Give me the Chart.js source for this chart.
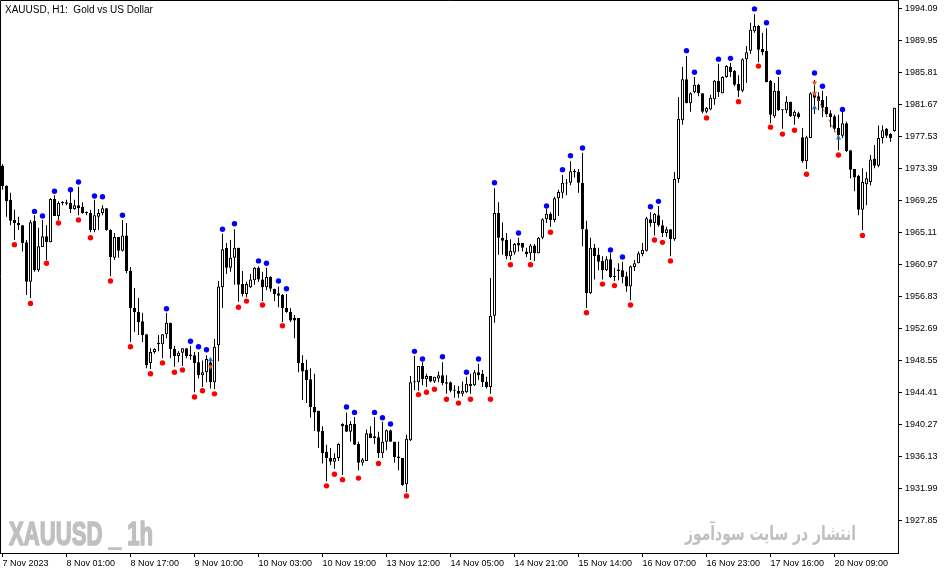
<!DOCTYPE html>
<html>
<head>
<meta charset="utf-8">
<script src="https://cdn.jsdelivr.net/npm/chart.js@4.4.1/dist/chart.umd.min.js"></script>
<style>
  html, body { margin: 0; padding: 0; background: #fff; }
  #chart { display: block; }
</style>
</head>
<body>
<canvas id="chart" width="951" height="574"></canvas>
<script>
// XAUUSD H1, one row = 16 bars (one date label)
const tickLabels = ['7 Nov 2023', '8 Nov 01:00', '8 Nov 17:00', '9 Nov 10:00', '10 Nov 03:00', '10 Nov 19:00',
  '13 Nov 12:00', '14 Nov 05:00', '14 Nov 21:00', '15 Nov 14:00', '16 Nov 07:00', '16 Nov 23:00',
  '17 Nov 16:00', '20 Nov 09:00'];

const priceTicks = [1927.85, 1931.99, 1936.13, 1940.27, 1944.41, 1948.55, 1952.69, 1956.83, 1960.97,
  1965.11, 1969.25, 1973.39, 1977.53, 1981.67, 1985.81, 1989.95, 1994.09];

const opens = [
  1973.8, 1971.2, 1969.4, 1966.8, 1966.4, 1966.1, 1963.9, 1958.8, 1966.7, 1960.3, 1963.3, 1964.7, 1963.9, 1969.5, 1967.3, 1969.0,
  1969.1, 1969.0, 1968.2, 1968.7, 1968.5, 1967.8, 1967.7, 1965.5, 1967.2, 1967.7, 1968.3, 1965.5, 1961.9, 1964.6, 1962.8, 1964.8,
  1960.2, 1955.4, 1954.9, 1953.7, 1952.0, 1948.3, 1949.7, 1950.9, 1950.7, 1952.0, 1953.5, 1950.1, 1949.2, 1949.6, 1950.2, 1949.4,
  1949.3, 1948.4, 1946.7, 1947.1, 1948.4, 1945.8, 1950.6, 1958.1, 1963.2, 1960.6, 1961.9, 1963.2, 1958.5, 1957.2, 1958.1, 1959.0,
  1960.6, 1959.1, 1958.1, 1959.4, 1957.9, 1957.3, 1957.1, 1955.4, 1954.9, 1954.1, 1954.1, 1948.3, 1947.4, 1946.2, 1942.6, 1942.1,
  1939.5, 1936.8, 1936.0, 1935.5, 1936.0, 1940.4, 1940.3, 1939.4, 1940.4, 1937.8, 1935.4, 1935.6, 1939.2, 1938.8, 1938.7, 1936.6,
  1938.1, 1939.6, 1938.1, 1936.2, 1936.0, 1932.6, 1938.3, 1945.8, 1945.8, 1947.9, 1946.2, 1946.6, 1945.9, 1946.3, 1946.7, 1945.8,
  1945.8, 1944.8, 1944.7, 1944.3, 1944.5, 1945.6, 1945.4, 1947.1, 1946.9, 1945.9, 1945.2, 1954.4, 1967.7, 1964.5, 1964.2, 1962.1,
  1962.6, 1963.8, 1963.8, 1962.7, 1962.5, 1963.5, 1962.5, 1964.5, 1966.9, 1967.6, 1966.8, 1969.6, 1970.3, 1971.6, 1971.6, 1973.0,
  1973.0, 1971.6, 1965.6, 1957.3, 1963.2, 1962.3, 1961.5, 1960.3, 1961.7, 1959.4, 1960.4, 1960.3, 1959.5, 1958.2, 1960.7, 1961.2,
  1962.4, 1962.8, 1966.9, 1966.4, 1967.4, 1966.1, 1965.1, 1965.6, 1964.3, 1972.1, 1979.7, 1985.0, 1981.9, 1983.3, 1984.3, 1983.2,
  1980.8, 1981.1, 1982.4, 1984.8, 1983.2, 1985.3, 1986.6, 1986.1, 1984.4, 1983.5, 1987.6, 1988.7, 1991.2, 1991.9, 1988.9, 1988.7,
  1984.8, 1980.2, 1983.5, 1981.1, 1981.0, 1982.1, 1980.2, 1980.6, 1977.5, 1974.4, 1977.4, 1983.2, 1982.8, 1982.3, 1981.4, 1980.6,
  1980.2, 1978.7, 1977.7, 1979.3, 1975.8, 1973.4, 1972.5, 1968.1, 1971.4, 1971.7, 1974.7, 1973.8, 1977.4, 1978.6, 1977.9, 1978.3
];
const highs = [
  1974.0, 1971.3, 1970.3, 1968.1, 1967.2, 1966.1, 1964.2, 1966.8, 1967.4, 1965.8, 1966.8, 1966.1, 1969.6, 1970.0, 1969.2, 1969.2,
  1969.4, 1970.4, 1969.4, 1971.1, 1969.1, 1967.9, 1968.1, 1969.4, 1968.2, 1968.7, 1968.3, 1965.6, 1965.1, 1964.6, 1966.8, 1966.4,
  1960.7, 1958.0, 1956.7, 1954.8, 1952.0, 1950.2, 1950.2, 1951.9, 1952.0, 1954.8, 1953.5, 1950.5, 1949.8, 1950.2, 1950.2, 1950.5,
  1949.7, 1949.7, 1948.6, 1949.3, 1948.9, 1951.4, 1958.9, 1965.0, 1963.8, 1964.2, 1965.6, 1963.2, 1960.2, 1958.8, 1959.8, 1960.7,
  1960.8, 1960.1, 1960.6, 1959.5, 1957.9, 1958.2, 1957.2, 1957.2, 1955.4, 1954.5, 1954.1, 1949.3, 1948.7, 1947.6, 1946.9, 1942.1,
  1940.1, 1937.7, 1937.3, 1936.6, 1937.9, 1940.5, 1941.9, 1940.8, 1941.3, 1938.1, 1936.0, 1939.7, 1940.1, 1941.3, 1939.4, 1940.7,
  1939.7, 1939.7, 1938.1, 1938.1, 1936.0, 1939.0, 1946.6, 1949.2, 1947.9, 1948.4, 1946.9, 1946.6, 1946.5, 1947.2, 1948.4, 1946.7,
  1945.9, 1945.4, 1945.3, 1945.9, 1946.5, 1946.9, 1947.4, 1948.2, 1947.4, 1946.5, 1959.3, 1970.9, 1969.1, 1966.5, 1965.1, 1964.3,
  1963.8, 1964.5, 1963.8, 1963.2, 1963.7, 1963.7, 1964.6, 1967.0, 1968.2, 1967.8, 1969.8, 1970.7, 1972.6, 1972.1, 1974.4, 1973.4,
  1973.4, 1975.5, 1966.7, 1964.5, 1963.7, 1963.2, 1962.1, 1962.1, 1962.5, 1960.6, 1961.2, 1961.4, 1960.1, 1960.9, 1961.6, 1962.7,
  1963.8, 1967.2, 1967.8, 1967.7, 1968.6, 1966.8, 1965.9, 1965.6, 1973.0, 1982.7, 1986.6, 1988.0, 1983.3, 1985.3, 1984.4, 1983.2,
  1981.4, 1983.0, 1984.9, 1987.0, 1985.4, 1986.8, 1987.1, 1986.2, 1985.5, 1987.7, 1989.3, 1992.3, 1993.4, 1992.0, 1991.0, 1991.6,
  1984.9, 1984.5, 1985.3, 1981.1, 1982.8, 1982.1, 1981.0, 1980.8, 1978.7, 1977.7, 1983.3, 1984.9, 1983.3, 1983.5, 1982.8, 1981.0,
  1980.4, 1980.4, 1980.8, 1979.5, 1975.8, 1973.4, 1972.6, 1973.5, 1973.0, 1975.2, 1976.5, 1979.0, 1979.0, 1978.7, 1978.0, 1981.3
];
const lows = [
  1970.7, 1967.2, 1966.1, 1964.2, 1965.5, 1962.7, 1957.1, 1956.7, 1960.1, 1960.1, 1963.3, 1961.6, 1963.9, 1967.3, 1966.8, 1968.7,
  1968.7, 1967.7, 1968.1, 1967.4, 1967.6, 1967.4, 1965.2, 1965.2, 1965.5, 1967.4, 1965.4, 1959.5, 1961.6, 1961.9, 1962.7, 1959.9,
  1951.0, 1952.3, 1951.9, 1951.0, 1947.6, 1947.5, 1949.5, 1949.8, 1948.9, 1951.5, 1948.9, 1947.8, 1948.4, 1947.9, 1948.9, 1948.7,
  1944.5, 1946.3, 1945.2, 1945.8, 1945.0, 1944.9, 1948.5, 1955.4, 1959.8, 1960.1, 1958.4, 1956.2, 1956.9, 1956.8, 1958.0, 1958.4,
  1958.8, 1956.3, 1957.7, 1957.5, 1956.3, 1955.5, 1953.6, 1954.8, 1953.6, 1951.5, 1947.1, 1943.5, 1943.1, 1941.2, 1939.5, 1937.3,
  1935.3, 1933.0, 1935.1, 1934.6, 1935.6, 1933.8, 1939.4, 1938.1, 1937.7, 1934.4, 1935.0, 1935.6, 1938.6, 1937.8, 1936.0, 1936.0,
  1937.0, 1938.1, 1935.4, 1934.4, 1932.4, 1931.6, 1938.2, 1944.8, 1944.7, 1945.4, 1945.2, 1945.8, 1945.7, 1945.8, 1945.4, 1944.3,
  1944.5, 1943.8, 1943.8, 1944.0, 1944.4, 1944.3, 1945.3, 1946.1, 1945.2, 1945.0, 1944.3, 1953.5, 1962.3, 1962.3, 1961.7, 1961.6,
  1962.3, 1962.7, 1962.7, 1962.0, 1961.6, 1961.5, 1962.5, 1964.3, 1966.4, 1965.9, 1966.5, 1967.3, 1969.6, 1970.0, 1971.3, 1972.3,
  1970.3, 1963.4, 1955.4, 1957.2, 1959.1, 1960.3, 1959.1, 1960.2, 1959.3, 1958.9, 1959.0, 1958.6, 1957.5, 1956.4, 1960.2, 1961.2,
  1962.1, 1962.7, 1965.9, 1964.8, 1965.9, 1964.6, 1964.6, 1962.1, 1964.1, 1971.6, 1979.1, 1981.9, 1980.8, 1983.2, 1982.8, 1980.6,
  1980.6, 1981.0, 1981.7, 1982.7, 1983.2, 1985.2, 1985.3, 1984.1, 1982.7, 1983.3, 1984.5, 1988.3, 1991.0, 1987.2, 1988.1, 1984.6,
  1979.3, 1980.0, 1980.9, 1978.6, 1980.6, 1980.1, 1979.1, 1979.9, 1974.2, 1973.4, 1977.4, 1980.5, 1981.0, 1980.1, 1980.1, 1978.8,
  1978.2, 1975.8, 1977.4, 1975.6, 1972.2, 1970.5, 1967.4, 1965.5, 1968.7, 1971.3, 1973.5, 1973.6, 1976.7, 1977.4, 1976.9, 1978.2
];
const closes = [
  1971.2, 1969.2, 1966.7, 1966.4, 1966.1, 1963.8, 1958.8, 1966.5, 1960.3, 1963.4, 1964.7, 1963.9, 1969.5, 1967.3, 1969.0, 1969.1,
  1968.9, 1968.2, 1968.7, 1968.3, 1967.7, 1967.7, 1965.5, 1967.4, 1967.7, 1968.3, 1965.5, 1962.0, 1964.6, 1962.8, 1964.8, 1960.2,
  1955.4, 1954.9, 1953.6, 1951.9, 1948.0, 1949.7, 1950.1, 1950.7, 1952.0, 1953.5, 1950.1, 1949.2, 1949.6, 1950.2, 1949.2, 1949.2,
  1948.3, 1946.7, 1947.1, 1948.8, 1945.8, 1950.4, 1958.2, 1963.0, 1960.6, 1961.9, 1963.2, 1958.4, 1957.2, 1958.5, 1959.1, 1960.6,
  1959.1, 1958.1, 1959.4, 1957.9, 1957.2, 1957.0, 1955.4, 1954.9, 1953.8, 1953.8, 1948.3, 1947.2, 1946.1, 1942.6, 1941.9, 1939.4,
  1936.6, 1936.0, 1935.5, 1936.0, 1937.8, 1940.1, 1939.4, 1940.4, 1937.7, 1935.4, 1935.8, 1939.2, 1938.6, 1938.6, 1936.6, 1938.1,
  1939.6, 1938.1, 1936.1, 1936.0, 1932.5, 1938.5, 1945.8, 1945.9, 1947.9, 1946.2, 1946.6, 1945.9, 1946.5, 1946.7, 1945.7, 1945.6,
  1944.7, 1944.7, 1944.3, 1944.7, 1945.6, 1945.3, 1947.1, 1946.7, 1945.8, 1945.2, 1954.4, 1967.7, 1964.5, 1964.1, 1962.1, 1962.8,
  1963.7, 1963.5, 1963.2, 1962.4, 1963.5, 1962.5, 1964.5, 1966.9, 1967.6, 1966.8, 1969.6, 1970.4, 1971.6, 1971.5, 1973.1, 1973.1,
  1971.6, 1965.6, 1957.3, 1963.2, 1962.1, 1961.4, 1960.3, 1961.7, 1959.4, 1959.5, 1960.2, 1959.4, 1958.2, 1960.8, 1961.2, 1962.5,
  1962.9, 1967.0, 1966.4, 1967.6, 1966.1, 1965.1, 1965.6, 1964.3, 1972.1, 1979.9, 1985.0, 1981.9, 1983.2, 1984.3, 1983.2, 1980.8,
  1981.3, 1982.6, 1984.8, 1983.3, 1985.3, 1986.7, 1985.9, 1984.3, 1983.5, 1987.6, 1988.5, 1991.4, 1991.9, 1988.8, 1988.5, 1984.6,
  1980.4, 1983.5, 1981.0, 1981.0, 1982.1, 1980.2, 1980.8, 1980.1, 1974.4, 1977.5, 1983.2, 1982.6, 1982.2, 1981.3, 1980.5, 1980.1,
  1978.6, 1977.8, 1979.3, 1975.7, 1973.3, 1972.3, 1968.1, 1971.7, 1972.2, 1974.6, 1973.8, 1977.4, 1978.4, 1977.7, 1977.4, 1981.3
];

// fractal marks: bar index and price of the dot
const upBars = [8, 10, 13, 17, 19, 23, 25, 30, 41, 47, 49, 51, 55, 58, 64, 66, 69, 71, 86, 88, 93, 95, 97,
  103, 105, 110, 116, 119, 123, 129, 136, 140, 142, 145, 152, 155, 162, 164, 171, 173, 179, 182, 188, 191,
  194, 203, 205, 210];
const upDots = [1967.9, 1967.3, 1970.5, 1970.7, 1971.7, 1969.9, 1969.8, 1967.4, 1955.3, 1951.1, 1950.4, 1950.0,
  1965.6, 1966.3, 1961.5, 1961.2, 1958.9, 1957.9, 1942.6, 1941.9, 1941.9, 1941.2, 1940.4, 1949.8, 1948.8,
  1949.1, 1947.1, 1948.8, 1971.6, 1965.1, 1968.6, 1973.3, 1975.1, 1976.1, 1962.9, 1962.0, 1968.5, 1969.2,
  1988.7, 1985.9, 1987.6, 1987.7, 1994.1, 1992.3, 1985.9, 1985.8, 1984.1, 1981.1];
const downBars = [3, 7, 11, 14, 19, 22, 27, 32, 37, 40, 43, 45, 48, 50, 53, 59, 61, 65, 70, 81, 83, 85, 89, 94,
  101, 104, 106, 108, 111, 114, 117, 122, 127, 132, 137, 146, 150, 153, 157, 163, 165, 167, 176, 184, 189,
  192, 195, 198, 201, 209, 215];
const downDots = [1963.6, 1956.0, 1961.2, 1966.4, 1966.8, 1964.5, 1958.9, 1950.4, 1946.9, 1948.3, 1947.1,
  1947.4, 1943.9, 1944.7, 1944.3, 1955.5, 1956.3, 1955.8, 1953.1, 1932.4, 1933.9, 1933.2, 1933.4, 1935.3,
  1931.1, 1944.2, 1944.5, 1944.9, 1943.6, 1943.1, 1943.6, 1943.6, 1961.0, 1961.0, 1965.2, 1954.8, 1958.5,
  1958.3, 1955.8, 1964.2, 1963.9, 1961.5, 1980.0, 1982.1, 1986.7, 1978.8, 1977.9, 1978.4, 1972.7, 1975.2, 1964.8];

// trade arrows (sell = orange, buy = blue) and the dashed trade line
const sellBars = [52, 203, 203];
const sellPrices = [1947.8, 1984.5, 1983.2];
const buyBars = [52, 203, 209];
const buyPrices = [1948.7, 1981.3, 1977.4];
const tradeBars = [203, 209];
const tradePrices = [1983.2, 1977.4];

const titleText = 'XAUUSD, H1:  Gold vs US Dollar';
const markLeft = 'XAUUSD _ 1h';
const markRight = 'انتشار در سایت سودآموز';

const wicks = opens.map((o, i) => ({ x: i, y: [lows[i], highs[i]] }));
const bodies = opens.map((o, i) => ({ x: i, y: [Math.min(o, closes[i]), Math.max(o, closes[i])] }));
const bodyColors = opens.map((o, i) => closes[i] >= o ? '#ffffff' : '#000000');
const pts = (bars, vals) => bars.map((b, k) => ({ x: b, y: vals[k] }));

const decor = {
  id: 'decor',
  beforeDatasetsDraw(chart) {
    const ctx = chart.ctx;
    ctx.save();
    ctx.fillStyle = '#c0c0c0';
    ctx.strokeStyle = '#c0c0c0';
    ctx.lineWidth = 1.6;
    ctx.lineJoin = 'round';
    ctx.textBaseline = 'alphabetic';
    ctx.font = 'bold 33px "Liberation Sans"';
    let w = ctx.measureText(markLeft).width;
    ctx.translate(9, 545);
    ctx.scale(144 / w, 1);
    ctx.fillText(markLeft, 0, 0);
    ctx.strokeText(markLeft, 0, 0);
    ctx.restore();

    ctx.save();
    ctx.fillStyle = '#c0c0c0';
    ctx.font = 'bold 20px "DejaVu Sans"';
    ctx.direction = 'rtl';
    ctx.textAlign = 'right';
    w = ctx.measureText(markRight).width;
    ctx.translate(856, 540);
    ctx.scale(171 / w, 1);
    ctx.fillText(markRight, 0, 0);
    ctx.restore();
  },
  afterDraw(chart) {
    const ctx = chart.ctx, a = chart.chartArea;
    ctx.save();
    ctx.strokeStyle = '#000';
    ctx.lineWidth = 1;
    ctx.beginPath();
    ctx.moveTo(a.left + 0.5, a.bottom);
    ctx.lineTo(a.left + 0.5, a.top + 0.5);
    ctx.lineTo(a.right, a.top + 0.5);
    ctx.stroke();
    ctx.fillStyle = '#000';
    ctx.font = '10px "Liberation Sans"';
    ctx.textBaseline = 'alphabetic';
    ctx.fillText(titleText, 5, 13);
    ctx.restore();
  }
};

new Chart(document.getElementById('chart'), {
  type: 'bar',
  data: {
    datasets: [
      { type: 'line', data: pts(sellBars, sellPrices), showLine: false, pointStyle: 'triangle', rotation: 180,
        pointRadius: 3, pointBackgroundColor: '#f05a28', pointBorderWidth: 0, order: -1 },
      { type: 'line', data: pts(buyBars, buyPrices), showLine: false, pointStyle: 'triangle',
        pointRadius: 3, pointBackgroundColor: '#1e6fd0', pointBorderWidth: 0, order: -1 },
      { type: 'line', data: pts(tradeBars, tradePrices), borderColor: '#f05a28', borderWidth: 1,
        borderDash: [3, 3], pointRadius: 0, order: 0 },
      { type: 'line', data: pts(upBars, upDots), showLine: false, pointRadius: 2.7, pointBackgroundColor: '#0000ff',
        pointBorderWidth: 0, order: 0 },
      { type: 'line', data: pts(downBars, downDots), showLine: false, pointRadius: 2.7, pointBackgroundColor: '#ff0000',
        pointBorderWidth: 0, order: 0 },
      { data: bodies, backgroundColor: bodyColors, borderColor: '#000', borderWidth: 1, borderSkipped: false,
        barThickness: 3, minBarLength: 1, grouped: false, inflateAmount: 0, order: 1 },
      { data: wicks, backgroundColor: '#000', borderWidth: 0, barThickness: 1, grouped: false,
        inflateAmount: 0, order: 2 }
    ]
  },
  options: {
    responsive: false,
    animation: false,
    devicePixelRatio: 1,
    layout: { padding: 0, autoPadding: false },
    plugins: { legend: { display: false }, tooltip: { enabled: false } },
    scales: {
      x: {
        type: 'linear',
        min: -0.625,
        max: 223.875,
        offset: false,
        afterFit: s => { s.height = 21; s.paddingLeft = 0; s.paddingRight = 0; },
        afterBuildTicks: s => { s.ticks = tickLabels.map((t, k) => ({ value: k * 16 })); },
        grid: { drawOnChartArea: false, offset: false, color: '#000', tickLength: 4 },
        border: { color: '#000' },
        ticks: {
          autoSkip: false, maxRotation: 0, minRotation: 0, align: 'start', padding: 1,
          color: '#000', font: { family: 'Liberation Sans', size: 9 },
          callback: v => tickLabels[Math.round(v / 16)]
        }
      },
      y: {
        position: 'right',
        min: 1923.71,
        max: 1995.25,
        afterFit: s => { s.width = 53; s.paddingTop = 0; s.paddingBottom = 0; },
        afterBuildTicks: s => { s.ticks = priceTicks.map(v => ({ value: v })); },
        grid: { drawOnChartArea: false, color: '#000', tickLength: 4 },
        border: { color: '#000' },
        ticks: {
          padding: 3, color: '#000', font: { family: 'Liberation Sans', size: 9 },
          callback: v => v.toFixed(2)
        }
      }
    }
  },
  plugins: [decor]
});
</script>
</body>
</html>
